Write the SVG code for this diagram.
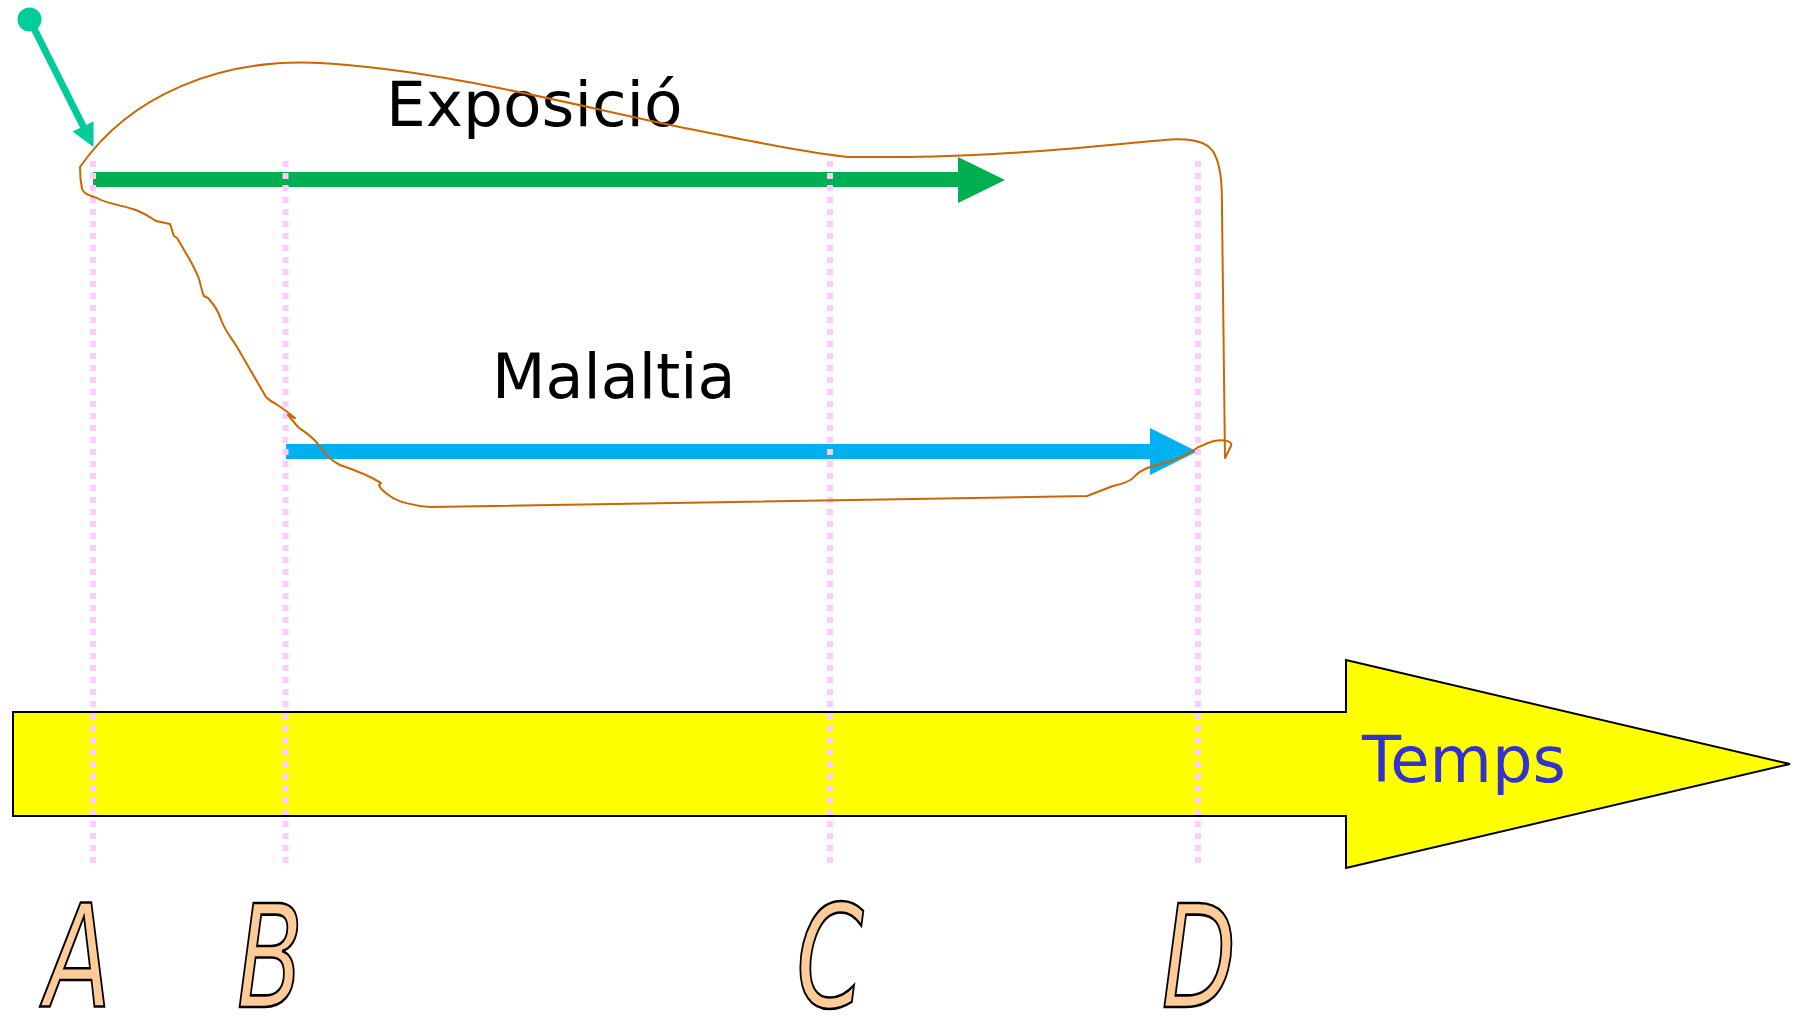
<svg xmlns="http://www.w3.org/2000/svg" width="1796" height="1018" viewBox="0 0 1796 1018">
<defs>
<style>
.guide{stroke:#FFCCFF;stroke-width:6;stroke-dasharray:6 6;fill:none}
.lbl{font-family:"DejaVu Sans","Liberation Sans",sans-serif;font-size:63px;fill:#000}
.letter{font-family:"DejaVu Sans","Liberation Sans",sans-serif;font-style:italic;font-size:142px;fill:#FFCC99;stroke:#000;stroke-width:2.6px;text-anchor:middle}
</style>
</defs>
<rect width="1796" height="1018" fill="#fff"/>
<g id="time-arrow">
<polygon points="13,712 1346,712 1346,660 1790,764 1346,868 1346,816 13,816" fill="#FFFF00" stroke="#000" stroke-width="2"/>
<text x="1362" y="782" style="font-family:'DejaVu Sans','Liberation Sans',sans-serif;font-size:64px;fill:#3333CC">Temps</text>
</g>
<g id="exposicio">
<rect x="93" y="172" width="866" height="15" fill="#00B050"/>
<polygon points="958,157 1005,180 958,203" fill="#00B050"/>
<text class="lbl" x="386" y="126">Exposició</text>
</g>
<g id="malaltia">
<rect x="286" y="444" width="865" height="15" fill="#00B0F0"/>
<polygon points="1150,428 1197,451.5 1150,475" fill="#00B0F0"/>
<text class="lbl" x="492" y="398" style="font-size:62px">Malaltia</text>
</g>
<g id="guides">
<line class="guide" x1="93" y1="161" x2="93" y2="868"/>
<line class="guide" x1="285.5" y1="161" x2="285.5" y2="868"/>
<line class="guide" x1="830" y1="161" x2="830" y2="868"/>
<line class="guide" x1="1198" y1="161" x2="1198" y2="868"/>
</g>
<g id="connectors">
<path id="loop" fill="none" stroke="#CC6600" stroke-width="2" stroke-linejoin="round" d="M80,167 C130,95 220,58 320,63 C450,70 600,112 700,131 C760,143 810,153 848,157 L907,157 C1000,156 1080,148 1164,140 C1195,137 1210,143 1215,155 C1222,170 1222,190 1222,210 L1225,458 L1231,446 C1233,441 1224,439 1214,441 C1206,443 1201,446 1197,448 C1188,454 1178,459 1168,462 C1160,464 1155,465 1150,467 C1142,470 1138,472 1134,477 C1130,482 1122,484 1113,486 L1087,496 L430,507 C415,506 398,502 390,496 C384,492 380,489 379,485 L381,483 C370,476 355,470 340,465 C332,461 325,455 318,444 C314,438 305,432 298,427 L288,415 L295,418 C288,412 282,408 276,404 C270,401 268,399 266,397 L237,347 C231,337 226,332 222,322 C218,310 214,305 208,298 L204,296 C202,292 201,286 199,279 C196,271 192,264 190,260 L177,238 L174,236 C172,232 172,228 170,224 L156,221 C150,217 142,212 133,209 C120,205 105,203 97,198 C88,195 84,194 82,189 C81,184 80,176 80,167 Z"/>
<g id="pointer" fill="#00CC99" stroke="#00CC99">
<circle cx="29.5" cy="19.5" r="12" stroke="none"/>
<line x1="29.5" y1="19.5" x2="84" y2="128" stroke-width="7"/>
<polygon points="93.5,147 72.5,131.5 93.5,121.5" stroke="none"/>
</g>
</g>
<g id="letters">
<text class="letter" transform="translate(78,1007) scale(0.68,1)">A</text>
<text class="letter" transform="translate(270,1007) scale(0.68,1)">B</text>
<text class="letter" transform="translate(830,1007) scale(0.68,1)">C</text>
<text class="letter" transform="translate(1199,1007) scale(0.68,1)">D</text>
</g>
</svg>
